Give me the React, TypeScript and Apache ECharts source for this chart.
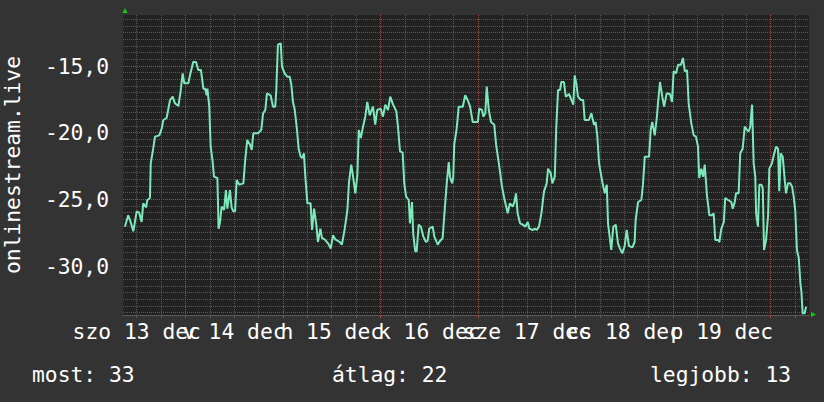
import React, { useEffect, useRef } from "react";
import * as echarts from "echarts";

// hours since 13 dec 00:00
const HOURS = [
  9.1, 9.9, 10.5, 11.15, 12.0, 12.6, 13.2, 13.6, 14.3, 14.6, 15.25, 15.45, 16.05, 16.5, 17.55, 18.15, 18.55, 19.35,
  20.2, 20.85, 21.4, 22.25, 22.8, 23.3, 23.7, 24.7, 25.1, 25.9, 26.6, 27.15, 27.8, 28.4, 28.85, 29.2, 29.4, 29.85,
  30.2, 30.7, 31.0, 31.85, 32.15, 32.5, 32.9, 33.5, 33.95, 34.3, 34.95, 35.35, 35.75, 36.2, 36.6, 37.25, 38.25, 38.65,
  39.2, 39.9, 40.3, 40.7, 41.85, 42.65, 43.1, 43.65, 44.05, 44.95, 45.55, 46.1, 46.35, 46.75, 47.45, 47.75, 48.4, 49.05,
  49.65, 50.05, 50.45, 50.9, 51.45, 51.85, 52.35, 52.75, 53.15, 53.5, 54.0, 54.8, 55.15, 55.65, 56.2, 56.6, 57.2, 57.6,
  58.25, 59.1, 59.75, 60.3, 60.85, 61.95, 62.5, 63.2, 63.85, 64.25, 64.8, 65.25, 65.8, 66.3, 66.65, 67.15, 67.7, 68.25,
  68.75, 69.35, 70.15, 70.7, 71.2, 72.05, 72.6, 73.2, 73.85, 74.4, 75.1, 75.9, 76.3, 76.8, 77.45, 77.85, 78.3, 78.95,
  79.25, 79.75, 80.05, 80.55, 80.9, 81.4, 81.95, 82.55, 83.2, 83.6, 84.0, 84.85, 85.25, 86.1, 86.45, 87.3, 87.7, 88.3,
  88.8, 89.1, 89.6, 89.9, 90.15, 90.75, 91.25, 92.25, 92.85, 93.45, 94.05, 94.7, 95.95, 96.3, 97.0, 97.3, 97.8, 98.15,
  98.65, 99.2, 100.0, 100.45, 101.25, 101.9, 102.45, 103.3, 103.85, 104.55, 104.95, 105.35, 105.75, 106.35, 107.0,
  107.65, 108.25, 108.65, 109.45, 110.1, 110.45, 111.0, 111.6, 112.25, 112.9, 113.25, 113.9, 114.3, 114.9, 115.25,
  115.7, 116.2, 116.5, 117.15, 117.6, 118.4, 118.8, 119.45, 119.8, 120.2, 120.6, 121.3, 121.9, 122.25, 123.3, 123.9,
  124.55, 124.95, 125.35, 125.8, 126.6, 127.2, 127.7, 128.0, 128.5, 128.8, 129.3, 129.9, 130.45, 130.95, 131.5, 132.1,
  132.6, 133.15, 134.0, 134.55, 134.8, 135.4, 136.2, 136.6, 137.05, 138.1, 138.5, 138.9, 139.5, 140.0, 140.3, 140.8,
  141.35, 141.8, 142.45, 143.25, 143.75, 144.15, 144.75, 145.25, 145.95, 146.45, 146.9, 147.45, 147.85, 148.5, 149.1,
  149.65, 150.15, 150.45, 150.95, 151.4, 151.8, 152.35, 152.95, 153.6, 154.0, 154.4, 155.1, 155.4, 155.9, 156.5,
  156.85, 157.55, 158.35, 158.7, 159.2, 159.5, 160.15, 160.55, 161.15, 161.65, 162.2, 162.65, 163.0, 163.45, 163.85,
  164.25, 164.45, 164.9, 165.25, 165.75, 166.1, 166.4, 166.9, 167.4, 167.7, 168.35, 168.8, 169.35, 169.85, 170.15,
  170.5, 171.0, 171.5, 171.8, 172.3, 172.85, 173.3, 173.7, 174.1, 174.5, 174.95, 175.35, 175.6, 175.9, 176.4, 176.75,
];

const RANK = [
  -27.05, -26.2, -26.7, -27.4, -25.9, -26.0, -26.7, -25.3, -25.6, -25.05, -24.9, -22.3, -21.2, -20.3, -20.2, -19.7, -19.05, -18.9,
  -17.55, -17.3, -17.8, -18.0, -16.9, -15.55, -16.3, -16.3, -15.7, -14.7, -14.7, -15.3, -15.3, -16.7, -16.7, -17.2, -16.7, -18.05,
  -21.05, -22.2, -23.3, -23.4, -27.2, -26.7, -25.55, -25.8, -24.3, -25.7, -24.3, -25.6, -25.9, -25.9, -23.55, -23.9, -23.8, -22.2,
  -20.55, -20.9, -21.3, -20.05, -20.05, -19.8, -18.55, -18.3, -17.05, -17.2, -18.05, -18.05, -16.8, -13.4, -13.3, -15.05, -15.55, -15.8,
  -15.8, -16.4, -17.7, -18.3, -19.8, -21.2, -21.8, -21.9, -21.55, -23.3, -25.3, -25.3, -27.3, -25.7, -26.9, -28.2, -27.2, -27.9,
  -28.0, -28.3, -28.7, -27.7, -28.0, -28.2, -28.4, -27.2, -25.8, -23.7, -22.4, -23.3, -24.55, -23.2, -19.8, -20.4, -19.55, -18.8,
  -17.7, -18.7, -18.05, -19.4, -18.3, -18.2, -18.8, -17.9, -18.3, -17.3, -17.9, -18.4, -19.55, -21.4, -21.5, -23.8, -24.8, -25.05,
  -26.8, -25.2, -27.55, -28.9, -28.9, -26.9, -27.05, -27.8, -28.2, -28.1, -27.2, -27.05, -27.8, -28.4, -28.2, -27.9, -26.2, -23.8,
  -22.2, -23.3, -23.8, -23.4, -20.9, -19.7, -18.05, -18.05, -17.2, -17.55, -18.05, -19.2, -19.2, -18.2, -18.3, -18.8, -18.55, -16.55,
  -18.3, -19.2, -19.4, -20.9, -22.55, -24.05, -24.9, -26.05, -25.3, -25.55, -25.2, -24.55, -26.05, -26.8, -26.9,
  -27.05, -26.7, -27.2, -27.3, -27.2, -27.3, -27.05, -26.05, -24.4, -23.8, -22.7, -23.05, -23.8, -23.3, -19.7,
  -16.8, -16.8, -16.2, -16.2, -17.3, -17.1, -17.4, -17.9, -15.7, -16.3, -17.3, -17.55, -17.55, -19.05, -19.05, -18.55,
  -19.4, -19.2, -20.2, -22.3, -23.7, -24.55, -23.9, -26.8, -28.05, -28.8, -27.05, -26.9, -28.3, -28.7, -29.05, -28.5,
  -27.3, -28.5, -28.6, -28.2, -26.55, -25.2, -25.05, -23.9, -21.8, -21.8, -19.8, -19.2, -20.2, -18.9, -17.8, -16.2,
  -17.3, -18.05, -17.05, -17.1, -17.7, -15.4, -15.55, -14.9, -14.9, -14.4, -15.4, -15.3, -17.8, -19.3, -20.2,
  -20.3, -21.05, -23.4, -22.7, -23.3, -22.4, -24.7, -26.2, -26.2, -26.05, -28.05, -28.05, -28.2, -27.2, -26.7,
  -24.9, -25.05, -25.2, -25.7, -25.2, -24.55, -24.55, -21.55, -21.2, -19.55, -19.8, -19.9, -19.55, -17.9, -22.3,
  -23.3, -26.05, -27.05, -23.9, -23.9, -24.2, -28.8, -28.05, -26.2, -22.7, -22.3, -21.7, -21.05, -21.2, -24.4,
  -21.55, -21.8, -23.55, -24.55, -23.8, -23.8, -24.05, -24.8, -25.9, -28.8, -29.4, -31.3, -31.9, -33.55, -33.55, -33.05,
];

const DAY_LABELS = ["szo 13 dec", "v 14 dec", "h 15 dec", "k 16 dec", "sze 17 dec", "cs 18 dec", "p 19 dec"];
const LABEL_HOURS = [12, 36, 60, 84, 108, 132, 156];
const DAY_START_HOURS = [24, 48, 72, 96, 120, 144, 168];
const Y_LABEL_VALUES = [-30, -25, -20, -15];
const STATS = ["most: 33", "átlag: 22", "legjobb: 13"];
const Y_NAME = "onlinestream.live";

const X_MIN = 8.62;
const X_MAX = 177.47;
const Y_MIN = -33.675;
const Y_MAX = -11.175;

const FONT = "DejaVu Sans Mono";
const FS = 21.3;
const MINOR = "#575757";
const MAJOR = "#b04646";
const LINE = "#7de8bb";

function dayLabel(v: number): string {
  let best = 0;
  LABEL_HOURS.forEach((h, i) => {
    if (Math.abs(h - v) < Math.abs(LABEL_HOURS[best] - v)) best = i;
  });
  return DAY_LABELS[best];
}

export default function App() {
  const ref = useRef<HTMLDivElement>(null);
  useEffect(() => {
    if (!ref.current) return;
    const chart = echarts.init(ref.current, null, { renderer: "svg" });

    const minorX: number[] = [];
    for (let h = 12; h <= 174; h += 6) if (h % 24 !== 0) minorX.push(h);
    const minorY: number[] = [];
    for (let v = -33.5; v <= -11.5; v += 0.5) if (Math.abs(v % 5) > 1e-6) minorY.push(v);

    const evenLabels = LABEL_HOURS.filter((_, i) => i % 2 === 0);
    const oddLabels = LABEL_HOURS.filter((_, i) => i % 2 === 1);

    const data = HOURS.map((h, i) => [h, RANK[i]]);

    const labelStyle = {
      color: "#ffffff",
      fontFamily: FONT,
      fontSize: FS,
      margin: 6,
      showMinLabel: true,
      showMaxLabel: true,
      hideOverlap: false,
      formatter: dayLabel,
    };

    chart.setOption({
      animation: false,
      backgroundColor: "#333333",
      grid: {
        left: 123,
        top: 15,
        width: 686,
        height: 300,
        show: true,
        backgroundColor: "#222222",
        borderWidth: 0,
        containLabel: false,
        outerBoundsMode: "none",
      },
      xAxis: [
        {
          type: "value",
          min: X_MIN,
          max: X_MAX,
          position: "bottom",
          axisLine: { show: true, lineStyle: { color: "#5a5a5a", width: 1 } },
          axisTick: { show: true, customValues: minorX, length: 3, lineStyle: { color: "#5a5a5a" } },
          splitLine: { show: true, lineStyle: { color: MINOR, type: [1, 1], width: 1 } },
          axisLabel: { show: true, customValues: evenLabels, ...labelStyle },
        },
        {
          type: "value",
          min: X_MIN,
          max: X_MAX,
          position: "bottom",
          axisLine: { show: false },
          axisTick: { show: true, customValues: DAY_START_HOURS, length: 3, lineStyle: { color: MAJOR } },
          splitLine: { show: true, lineStyle: { color: MAJOR, type: [1, 1], width: 1 } },
          axisLabel: { show: false },
        },
        {
          type: "value",
          min: X_MIN,
          max: X_MAX,
          position: "bottom",
          axisLine: { show: false },
          axisTick: { show: false, customValues: oddLabels },
          splitLine: { show: false },
          axisLabel: { show: true, customValues: oddLabels, ...labelStyle },
        },
      ],
      yAxis: [
        {
          type: "value",
          min: Y_MIN,
          max: Y_MAX,
          position: "left",
          axisLine: { show: false },
          axisTick: { show: false, customValues: minorY },
          splitLine: { show: true, lineStyle: { color: MINOR, type: [1, 1], width: 1 } },
          axisLabel: { show: false },
        },
        {
          type: "value",
          min: Y_MIN,
          max: Y_MAX,
          position: "left",
          axisLine: { show: false },
          axisTick: { show: false, customValues: Y_LABEL_VALUES },
          splitLine: { show: true, lineStyle: { color: MAJOR, type: [1, 1], width: 1 } },
          axisLabel: {
            show: true,
            customValues: Y_LABEL_VALUES,
            showMinLabel: true,
            showMaxLabel: true,
            formatter: (v: number) => v.toFixed(1).replace(".", ","),
            color: "#ffffff",
            fontFamily: FONT,
            fontSize: FS,
            margin: 14,
          },
          name: Y_NAME,
          nameLocation: "middle",
          nameRotate: 90,
          nameGap: 100,
          nameTextStyle: { color: "#ffffff", fontFamily: FONT, fontSize: FS },
        },
      ],
      series: [
        {
          type: "line",
          xAxisIndex: 0,
          yAxisIndex: 0,
          data,
          showSymbol: false,
          symbol: "none",
          lineStyle: { color: LINE, width: 2 },
          z: 5,
        },
      ],
      graphic: [
        {
          type: "polygon",
          shape: { points: [[122.5, 13], [127.5, 13], [125, 8]] },
          style: { fill: "#11cc11" },
          z: 10,
        },
        {
          type: "polygon",
          shape: { points: [[811, 312], [811, 317], [816, 314.5]] },
          style: { fill: "#11cc11" },
          z: 10,
        },
        {
          type: "text",
          x: 32,
          y: 374,
          style: { text: STATS[0], fill: "#ffffff", fontFamily: FONT, fontSize: FS, verticalAlign: "middle" },
        },
        {
          type: "text",
          x: 332,
          y: 374,
          style: { text: STATS[1], fill: "#ffffff", fontFamily: FONT, fontSize: FS, verticalAlign: "middle" },
        },
        {
          type: "text",
          x: 650,
          y: 374,
          style: { text: STATS[2], fill: "#ffffff", fontFamily: FONT, fontSize: FS, verticalAlign: "middle" },
        },
      ],
    });
    return () => chart.dispose();
  }, []);

  return <div ref={ref} style={{ position: "fixed", left: 0, top: 0, width: 824, height: 402 }} />;
}
